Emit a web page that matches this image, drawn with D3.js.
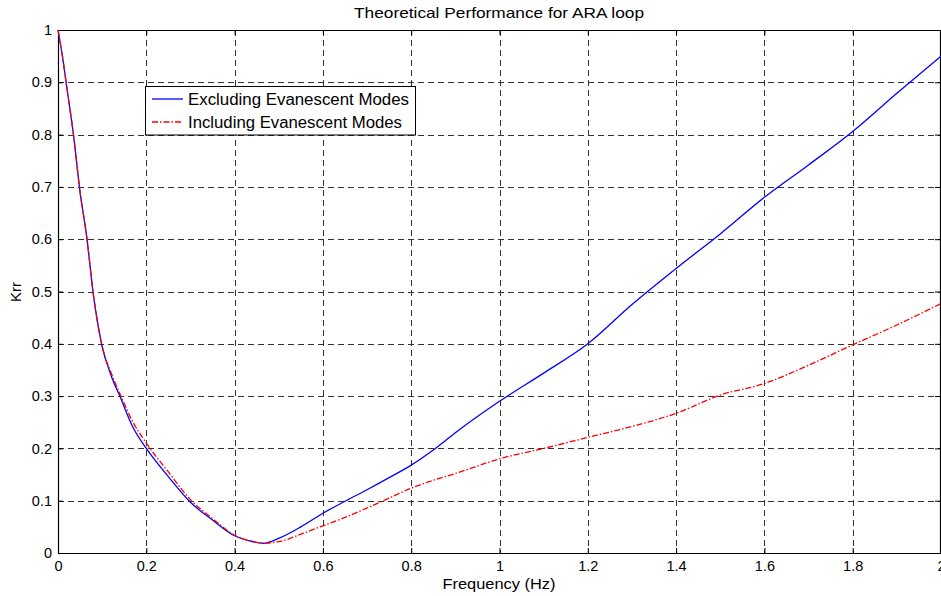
<!DOCTYPE html>
<html>
<head>
<meta charset="utf-8">
<script src="https://cdn.jsdelivr.net/npm/d3@7"></script>
<style>
  body { margin: 0; background: #fff; overflow: hidden; }
  text { font-family: "Liberation Sans", Arial, sans-serif; fill: #000; }
</style>
</head>
<body>
<script>
let width = 941;
let height = 596;

// frequency samples (Hz)
let freq = [0, 0.01, 0.02, 0.035, 0.05, 0.065, 0.08, 0.1, 0.12, 0.14, 0.17, 0.2,
  0.25, 0.3, 0.35, 0.4, 0.44, 0.465, 0.5, 0.55, 0.6, 0.65, 0.7, 0.75, 0.8, 0.85,
  0.9, 1.0, 1.1, 1.2, 1.3, 1.4, 1.5, 1.6, 1.7, 1.8, 1.9, 2.0];

// Krr excluding evanescent modes
let krrExcl = [1.0, 0.95, 0.89, 0.80, 0.69, 0.605, 0.495, 0.395, 0.34, 0.30, 0.24, 0.20,
  0.146, 0.097, 0.063, 0.033, 0.022, 0.0185, 0.028, 0.05, 0.076, 0.099, 0.121, 0.144, 0.168, 0.197,
  0.23, 0.29, 0.344, 0.40, 0.475, 0.544, 0.61, 0.68, 0.742, 0.806, 0.879, 0.95];

// Krr including evanescent modes
let krrIncl = [1.0, 0.95, 0.89, 0.80, 0.69, 0.605, 0.495, 0.395, 0.345, 0.305, 0.25, 0.21,
  0.155, 0.102, 0.066, 0.034, 0.022, 0.019, 0.0216, 0.036, 0.052, 0.068, 0.086, 0.105, 0.124, 0.139,
  0.152, 0.18, 0.2, 0.221, 0.242, 0.267, 0.302, 0.324, 0.359, 0.398, 0.436, 0.477];

let seriesNames = ["Excluding Evanescent Modes", "Including Evanescent Modes"];
let seriesColors = ["#0000ff", "#ff0000"];
let seriesDash = [null, "6,2,1.5,2"];

let xTicks = [0, 0.2, 0.4, 0.6, 0.8, 1, 1.2, 1.4, 1.6, 1.8, 2];
let yTicks = [0, 0.1, 0.2, 0.3, 0.4, 0.5, 0.6, 0.7, 0.8, 0.9, 1];

let margin = { top: 30, left: 58, bottom: 43, right: 0 };

let svg = d3.select("body").append("svg")
  .attr("width", width)
  .attr("height", height);

let x = d3.scaleLinear().domain([0, 2]).range([margin.left, 941]);
let y = d3.scaleLinear().domain([0, 1]).range([553, margin.top]);

// grid lines
let grid = svg.append("g")
  .attr("stroke", "#333")
  .attr("stroke-width", 1)
  .attr("stroke-dasharray", "6,4");

grid.selectAll(".vg").data(xTicks.slice(1, -1)).enter().append("line")
  .attr("x1", d => Math.round(x(d)) + 0.5).attr("x2", d => Math.round(x(d)) + 0.5)
  .attr("y1", y(1)).attr("y2", y(0));

grid.selectAll(".hg").data(yTicks.slice(1, -1)).enter().append("line")
  .attr("y1", d => Math.round(y(d)) + 0.5).attr("y2", d => Math.round(y(d)) + 0.5)
  .attr("x1", x(0)).attr("x2", x(2));

// axes, ticks inward like matlab
let xAxisB = d3.axisBottom(x).tickValues(xTicks).tickSizeInner(-5).tickSizeOuter(0).tickPadding(8).tickFormat(d3.format("~g"));
let xAxisT = d3.axisTop(x).tickValues(xTicks).tickSizeInner(-5).tickSizeOuter(0).tickFormat("");
let yAxisL = d3.axisLeft(y).tickValues(yTicks).tickSizeInner(-5).tickSizeOuter(0).tickPadding(6).tickFormat(d3.format("~g"));
let yAxisR = d3.axisRight(y).tickValues(yTicks).tickSizeInner(-5).tickSizeOuter(0).tickFormat("");

svg.append("g").attr("transform", `translate(0,${y(0)})`).call(xAxisB);
svg.append("g").attr("transform", `translate(0,${y(1)})`).call(xAxisT);
svg.append("g").attr("transform", `translate(${x(0)},0)`).call(yAxisL);
svg.append("g").attr("transform", `translate(${x(2) - 1},0)`).call(yAxisR);

svg.selectAll(".domain").attr("stroke", "#000").attr("stroke-width", 1.2);
svg.selectAll(".tick line").attr("stroke", "#000");
svg.selectAll(".tick text")
  .style("font-family", "'Liberation Sans', Arial, sans-serif")
  .style("font-size", "14.5px")
  .attr("fill", "#000");

// curves
let line = d3.line().curve(d3.curveMonotoneX);
let series = [krrExcl, krrIncl];

series.forEach((vals, i) => {
  svg.append("path")
    .datum(freq.map((f, j) => [x(f), y(vals[j])]))
    .attr("d", line)
    .attr("fill", "none")
    .attr("stroke", seriesColors[i])
    .attr("stroke-width", 1.3)
    .attr("stroke-dasharray", seriesDash[i]);
});

// legend
let legend = svg.append("g");
legend.append("rect")
  .attr("x", 145.5).attr("y", 86.5)
  .attr("width", 270).attr("height", 48.5)
  .attr("fill", "#fff").attr("stroke", "#000").attr("stroke-width", 1);

seriesNames.forEach((name, i) => {
  let ly = 99 + i * 23;
  legend.append("line")
    .attr("x1", 152).attr("x2", 183)
    .attr("y1", ly).attr("y2", ly)
    .attr("stroke", seriesColors[i])
    .attr("stroke-width", 1.3)
    .attr("stroke-dasharray", seriesDash[i]);
  legend.append("text")
    .attr("x", 188).attr("y", ly + 5.5)
    .style("font-size", "16px")
    .attr("textLength", i === 0 ? 221 : 214)
    .attr("lengthAdjust", "spacingAndGlyphs")
    .text(name);
});

// title and axis labels
svg.append("text")
  .attr("x", 499).attr("y", 18)
  .attr("text-anchor", "middle")
  .style("font-size", "15px")
  .attr("textLength", 290)
  .attr("lengthAdjust", "spacingAndGlyphs")
  .text("Theoretical Performance for ARA loop");

svg.append("text")
  .attr("x", 499).attr("y", 589)
  .attr("text-anchor", "middle")
  .style("font-size", "15px")
  .attr("textLength", 113)
  .attr("lengthAdjust", "spacingAndGlyphs")
  .text("Frequency (Hz)");

svg.append("text")
  .attr("transform", "translate(21,292) rotate(-90)")
  .attr("text-anchor", "middle")
  .style("font-size", "15px")
  .text("Krr");
</script>
</body>
</html>
